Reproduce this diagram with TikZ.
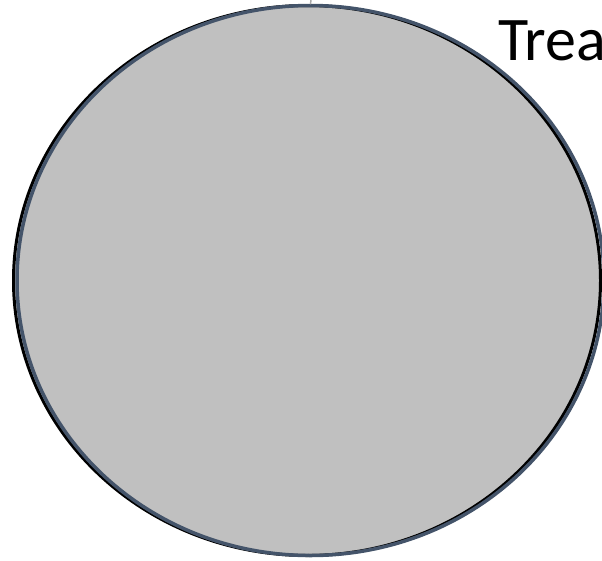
\documentclass[tikz,border=0pt]{standalone}
\usepackage{fontspec}
\setmainfont{Carlito}
\usetikzlibrary{shapes.geometric}
\begin{document}
\begin{tikzpicture}[x=1pt, y=1pt, line cap=round, line join=round]
  \definecolor{ovalfill}{RGB}{192,192,192}
  \definecolor{ovaledge}{RGB}{68,84,106}
  \definecolor{stemgray}{RGB}{170,170,170}
  \tikzset{oval/.style={ellipse, inner sep=0pt, minimum width=587pt, minimum height=550pt}}
  \clip (0,0) rectangle (602,-560);
  \useasboundingbox (0,0) rectangle (602,-560);
  % shadow rim first, then the blue edge on top
  \node[oval, fill=ovalfill, draw=black, line width=3pt] (rim) at (307,-280.5) {};
  \node[oval, draw=ovaledge, line width=3.5pt] (outer) at (310.5,-280.5) {};
  \coordinate (stemtop) at (311,0);
  \draw[stemgray, line width=1.5pt] (stemtop) -- (outer.north);
  \node[anchor=base west, inner sep=0pt, font=\fontsize{62}{68}\selectfont] (title) at (498,-60) {Trea};
\end{tikzpicture}
\end{document}
